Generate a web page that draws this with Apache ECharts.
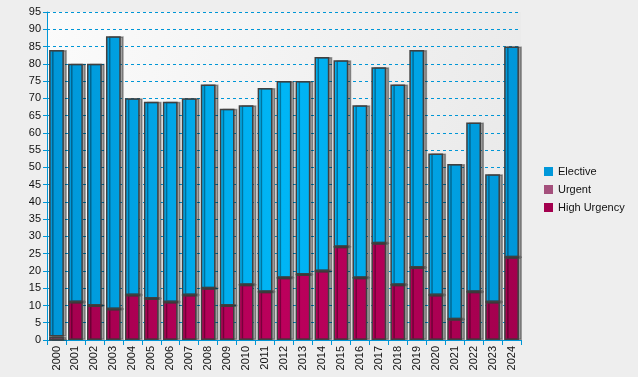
<!DOCTYPE html>
<html>
<head>
<meta charset="utf-8">
<script src="https://cdn.jsdelivr.net/npm/echarts@6/dist/echarts.min.js"></script>
<style>
  html, body { margin: 0; padding: 0; background: #eeeeee; }
  #main { width: 638px; height: 377px; }
</style>
</head>
<body>
<div id="main"></div>
<script>
var years = ['2000', '2001', '2002', '2003', '2004', '2005', '2006', '2007', '2008', '2009',
    '2010', '2011', '2012', '2013', '2014', '2015', '2016', '2017', '2018', '2019',
    '2020', '2021', '2022', '2023', '2024'];
var highUrgency = [0, 11, 10, 9, 13, 12, 11, 13, 15, 10, 16, 14, 18, 19, 20, 27, 18, 28, 16, 21, 13, 6, 14, 11, 24];
var urgent = [1, 0, 0, 0, 0, 0, 0, 0, 0, 0, 0, 0, 0, 0, 0, 0, 0, 0, 0, 0, 0, 0, 0, 0, 0];
var elective = [83, 69, 70, 79, 57, 57, 58, 57, 59, 57, 52, 59, 57, 56, 62, 54, 50, 51, 58, 63, 41, 45, 49, 37, 61];

var myChart = echarts.init(document.getElementById('main'), null, { renderer: 'canvas' });

// lighting across the plot: darker at the sides, brighter in the middle
function band(edge, mid) {
    return {
        type: 'linear', x: 47, y: 0, x2: 521, y2: 0, global: true,
        colorStops: [
            { offset: 0, color: edge },
            { offset: 0.5, color: mid },
            { offset: 1, color: edge }
        ]
    };
}

var barStyle = {
    borderColor: '#404040',
    borderWidth: 1.5,
    shadowColor: 'rgba(0,0,0,0.35)',
    shadowBlur: 0,
    shadowOffsetX: 3,
    shadowOffsetY: 0
};

var option = {
    backgroundColor: '#eeeeee',
    animation: false,
    textStyle: { fontFamily: 'Liberation Sans', color: '#111' },
    grid: {
        left: 47, right: 117, top: 12, bottom: 37,
        show: true,
        borderWidth: 0,
        backgroundColor: {
            type: 'linear', x: 0, y: 0, x2: 1, y2: 0.4,
            colorStops: [
                { offset: 0, color: '#fbfbfb' },
                { offset: 1, color: '#eaeaea' }
            ]
        }
    },
    legend: {
        orient: 'vertical',
        left: 539,
        top: 161,
        itemWidth: 9,
        itemHeight: 9,
        itemGap: 7,
        icon: 'rect',
        textStyle: { fontSize: 11, color: '#111', padding: [0, 0, 0, 0] },
        data: [
            { name: 'Elective', itemStyle: { color: '#0098da', borderWidth: 0, shadowOffsetX: 0, shadowOffsetY: 0 } },
            { name: 'Urgent', itemStyle: { color: '#a4507c', borderWidth: 0, shadowOffsetX: 0, shadowOffsetY: 0 } },
            { name: 'High Urgency', itemStyle: { color: '#a3004e', borderWidth: 0, shadowOffsetX: 0, shadowOffsetY: 0 } }
        ]
    },
    xAxis: {
        type: 'category',
        data: years,
        axisLine: { lineStyle: { color: '#0096d6', width: 1 } },
        axisTick: { show: true, length: 5, lineStyle: { color: '#0096d6' } },
        axisLabel: { rotate: 90, fontSize: 11, color: '#111', margin: 6 }
    },
    yAxis: {
        type: 'value',
        min: 0,
        max: 95,
        interval: 5,
        axisLine: { show: true, lineStyle: { color: '#0096d6', width: 1 } },
        axisTick: { show: true, length: 4, lineStyle: { color: '#0096d6' } },
        axisLabel: { fontSize: 11, color: '#111', margin: 6 },
        splitLine: { lineStyle: { color: '#0096d6', type: [3, 3], width: 1 } }
    },
    series: [
        {
            name: 'High Urgency',
            type: 'bar',
            stack: 'all',
            barCategoryGap: '22%',
            data: highUrgency,
            itemStyle: Object.assign({ color: band('#a3004e', '#bc005c') }, barStyle)
        },
        {
            name: 'Urgent',
            type: 'bar',
            stack: 'all',
            data: urgent,
            itemStyle: Object.assign({ color: '#a4507c' }, barStyle)
        },
        {
            name: 'Elective',
            type: 'bar',
            stack: 'all',
            data: elective,
            itemStyle: Object.assign({ color: band('#0096d8', '#00b6f6') }, barStyle)
        }
    ]
};

myChart.setOption(option);
window.addEventListener('resize', myChart.resize);
</script>
</body>
</html>
